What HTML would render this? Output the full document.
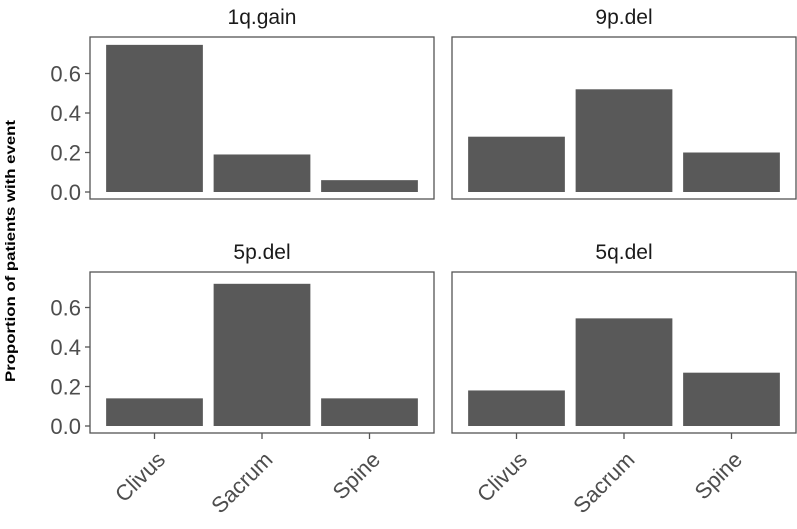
<!DOCTYPE html>
<html><head><meta charset="utf-8"><style>
body{margin:0;background:#fff;}
svg{display:block;font-family:"Liberation Sans",Arial,sans-serif;}
</style></head><body>
<svg id="chart" width="797" height="529" viewBox="0 0 797 529">
<text transform="translate(15,251) rotate(-90)" text-anchor="middle" font-size="14" font-weight="bold" fill="#000" textLength="262" lengthAdjust="spacingAndGlyphs">Proportion of patients with event</text>
</svg>
<script>
const categories = ["Clivus","Sacrum","Spine"];
const panelTitles = ["1q.gain","9p.del","5p.del","5q.del"];
const values1q = [0.745, 0.19, 0.06];
const values9p = [0.28, 0.52, 0.20];
const values5p = [0.14, 0.72, 0.14];
const values5q = [0.18, 0.545, 0.27];
const yTicks = [0.0, 0.2, 0.4, 0.6];
const yTickLabels = ["0.0","0.2","0.4","0.6"];

const seriesList = [values1q, values9p, values5p, values5q];
const svg = document.getElementById('chart');
const NS = 'http://www.w3.org/2000/svg';
function mk(tag, attrs){const e=document.createElementNS(NS,tag);for(const k in attrs)e.setAttribute(k,attrs[k]);svg.appendChild(e);return e;}
const cols=[{x0:90,x1:434},{x0:452,x1:796}];
const rows=[{y0:37,y1:199,zero:192},{y0:272,y1:433,zero:426}];
const pxPer = 39.5/0.2;
seriesList.forEach((vals,i)=>{
  const c=cols[i%2], r=rows[Math.floor(i/2)];
  const w=c.x1-c.x0, band=w/ (categories.length+0.2);
  const xCenter=j=>c.x0+band*(0.6+j);
  const y=v=>r.zero-v*pxPer;
  const t=mk('text',{x:(c.x0+c.x1)/2,y:r.y0-13,'text-anchor':'middle','font-size':21,fill:'#1a1a1a'});
  t.textContent=panelTitles[i];
  
  
  vals.forEach((v,j)=>{
    const bw=band*0.9;
    const b=mk('rect',{x:xCenter(j)-bw/2,y:y(v),width:bw,height:v*pxPer,fill:'#595959'});
    
    
  });
  const f=mk('rect',{x:c.x0,y:r.y0,width:w,height:r.y1-r.y0,fill:'none',stroke:'#555',"stroke-width":1.3});
  
  
  if(i%2===0){
    yTicks.forEach((tv,k)=>{
      mk('line',{x1:c.x0-5,x2:c.x0,y1:y(tv),y2:y(tv),stroke:'#555','stroke-width':1.3});
      const tl=mk('text',{x:c.x0-9,y:y(tv)+8,'text-anchor':'end','font-size':22,fill:'#4d4d4d'});
      tl.textContent=yTickLabels[k];
      
      
    });
  }
  if(i>=2){
    categories.forEach((cat,j)=>{
      const cx=xCenter(j);
      mk('line',{x1:cx,x2:cx,y1:r.y1,y2:r.y1+6,stroke:'#555','stroke-width':1.3});
      const xl=mk('text',{transform:`translate(${cx+12},${r.y1+28}) rotate(-45)`,'text-anchor':'end','font-size':22,fill:'#4d4d4d'});
      xl.textContent=cat;
      
      
    });
  }
});
</script>
</body></html>
